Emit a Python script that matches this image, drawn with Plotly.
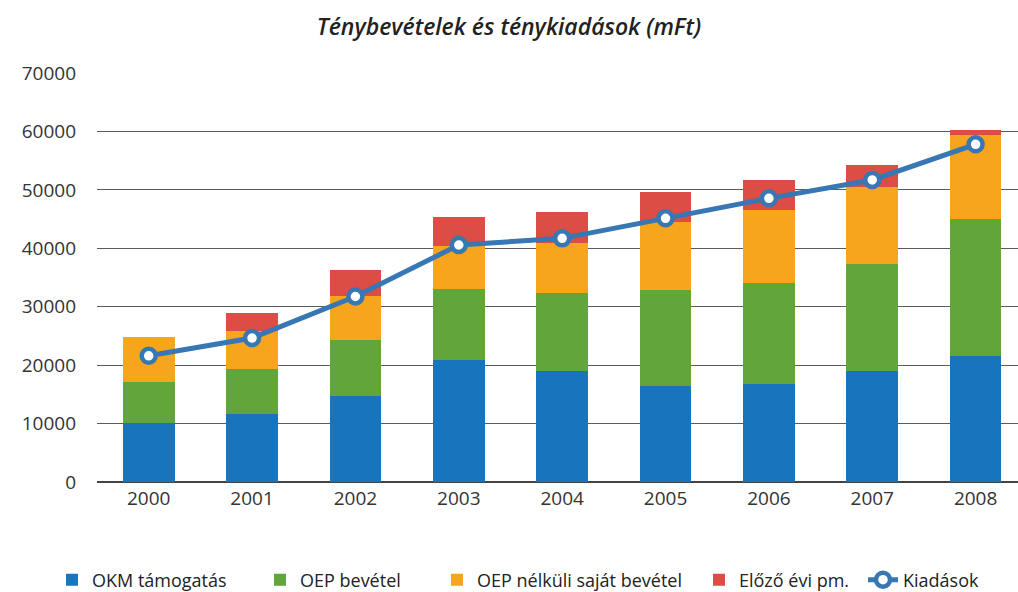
import plotly.graph_objects as go

years = ["2000", "2001", "2002", "2003", "2004", "2005", "2006", "2007", "2008"]
okm = [10100, 11640, 14720, 20880, 19000, 16430, 16770, 19000, 21560]
oep = [7010, 7700, 9580, 12150, 13350, 16430, 17290, 18310, 23450]
sajat = [7710, 6500, 7530, 7360, 8550, 11640, 12490, 13180, 14430]
elozo = [0, 3080, 4450, 4960, 5310, 5130, 5140, 3760, 800]
kiadas = [21600, 24640, 31750, 40560, 41700, 45130, 48550, 51690, 57800]

colors = {"okm": "#1874BC", "oep": "#62A53A", "sajat": "#F7A51D", "elozo": "#DC4D45", "line": "#3777B3"}

# layout geometry (pixels)
W, H = 1018, 592
ML, MT, MB = 97, 73, 110
plot_w = W - ML
plot_h = H - MT - MB

def px_x(px):
    return (px - ML) / plot_w

def px_y(py):
    return (H - MB - py) / plot_h

legend_centers = [73, 281, 458, 720, 884]
legend_names = ["legend", "legend2", "legend3", "legend4", "legend5"]

fig = go.Figure()
bar_series = [("OKM támogatás", okm, colors["okm"]),
              ("OEP bevétel", oep, colors["oep"]),
              ("OEP nélküli saját bevétel", sajat, colors["sajat"]),
              ("Előző évi pm.", elozo, colors["elozo"])]
for i, (name, vals, c) in enumerate(bar_series):
    fig.add_trace(go.Bar(x=years, y=vals, name=name, legend=legend_names[i],
                         marker=dict(color=c, line=dict(width=0))))

fig.add_trace(go.Scatter(x=years, y=kiadas, name="Kiadások", mode="lines+markers",
                         legend=legend_names[4],
                         line=dict(color=colors["line"], width=5),
                         marker=dict(size=14, color="white", line=dict(color=colors["line"], width=4.5))))

font_family = "Open Sans, Noto Sans, sans-serif"
legend_font = dict(family=font_family, size=18, color="#222222")
legend_layout = {}
for name, cx in zip(legend_names, legend_centers):
    legend_layout[name] = dict(orientation="h", x=px_x(cx - 21), xanchor="left",
                               y=px_y(580), yanchor="middle", font=legend_font,
                               bgcolor="rgba(0,0,0,0)", itemwidth=30)

fig.update_layout(
    width=W, height=H,
    barmode="stack", bargap=0.5,
    paper_bgcolor="white", plot_bgcolor="white",
    margin=dict(l=ML, r=0, t=MT, b=MB, autoexpand=False),
    title=dict(text="<i>Ténybevételek és ténykiadások (mFt)</i>", x=0.5, xanchor="center",
               y=1 - 27 / H, yanchor="middle",
               font=dict(family=font_family, size=23, color="#222222", weight=600)),
    font=dict(family=font_family, size=19, color="#333333"),
    xaxis=dict(type="category", range=[-0.5, 8.41], showgrid=False, showline=False,
               ticks="", tickfont=dict(size=19, color="#333333"), automargin=False,
               ticklabelstandoff=3),
    yaxis=dict(range=[0, 70000], dtick=10000, showgrid=True, gridcolor="#5a5a5a", gridwidth=1.4,
               zeroline=True, zerolinecolor="#444444", zerolinewidth=1.6,
               tickfont=dict(size=19, color="#333333"), ticklabelstandoff=20,
               tickformat="d", showline=False, automargin=False),
    showlegend=True,
    **legend_layout,
)
fig.write_html("out.html", config={"displayModeBar": False},
               post_script="document.body.style.margin='0';document.body.style.overflow='hidden';")
